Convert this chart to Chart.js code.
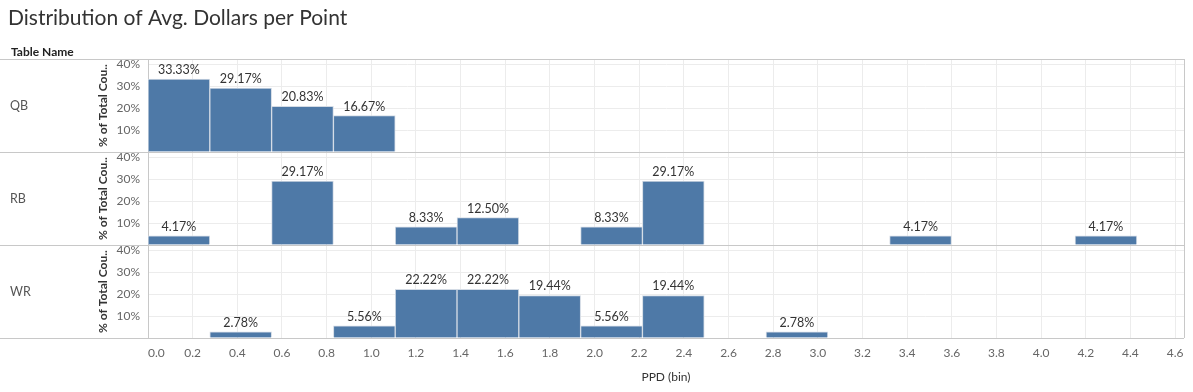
<!DOCTYPE html>
<html>
<head>
<meta charset="utf-8">
<title>Distribution of Avg. Dollars per Point</title>
<script src="https://cdn.jsdelivr.net/npm/chart.js@4.4.1/dist/chart.umd.min.js"></script>
<style>
  html, body { margin: 0; padding: 0; background: #fff; }
  #wrap { position: relative; width: 1193px; height: 392px; }
</style>
</head>
<body>
<div id="wrap"><canvas id="chart"></canvas></div>
<script>
// PPD bins (bin width)
const binSize = 0.2768;
const bins = [0, 1, 2, 3, 4, 5, 6, 7, 8, 9, 10, 11, 12, 13, 14, 15];

// % of total count per bin, one row per position
const rowNames = ["QB", "RB", "WR"];
const qbPct = [33.33, 29.17, 20.83, 16.67, null, null, null, null, null, null, null, null, null, null, null, null];
const rbPct = [4.17, null, 29.17, null, 8.33, 12.50, null, 8.33, 29.17, null, null, null, 4.17, null, null, 4.17];
const wrPct = [null, 2.78, null, 5.56, 22.22, 22.22, 19.44, 5.56, 19.44, null, 2.78, null, null, null, null, null];

// axes
const xTickLabels = ["0.0", "0.2", "0.4", "0.6", "0.8", "1.0", "1.2", "1.4", "1.6", "1.8", "2.0", "2.2",
                     "2.4", "2.6", "2.8", "3.0", "3.2", "3.4", "3.6", "3.8", "4.0", "4.2", "4.4", "4.6"];
const xMax = 4.64;
const yTicks = [0, 10, 20, 30, 40];
const yMax = 42.5;

const barColor = "#4e79a7";
const lineColor = "#c8c8c8";
const gridColor = "#ececec";

Chart.defaults.font.family = "Lato, 'Noto Sans', sans-serif";

function binPoints(values) {
    // bar centred in its bin
    return bins.map((b, i) => ({ x: (b + 0.5) * binSize, y: values[i] }));
}

function rowAxis() {
    return {
        type: "linear",
        position: "left",
        stack: "rows",
        stackWeight: 1,
        min: 0,
        max: yMax,
        offset: false,
        afterBuildTicks: (s) => { s.ticks = yTicks.map(v => ({ value: v })); },
        afterFit: (s) => { s.width = 60; },
        ticks: {
            autoSkip: false,
            padding: 8,
            color: "#666",
            font: { size: 12 },
            callback: (v) => v === 0 ? "" : v + "%",
        },
        grid: {
            drawTicks: false,
            color: (c) => (c.tick && c.tick.value === 0) ? "rgba(0,0,0,0)" : gridColor,
        },
        border: { display: true, color: lineColor },
        title: {
            display: true,
            text: "% of Total Cou..",
            color: "#333",
            font: { size: 12, weight: "bold" },
            padding: { top: 8, bottom: 0 },
        },
    };
}

// titles, row headers and pane separators (Tableau style)
const framePlugin = {
    id: "frame",
    afterDraw(chart) {
        const ctx = chart.ctx;
        const right = chart.chartArea.right;
        const axes = ["y_qb", "y_rb", "y_wr"].map(id => chart.scales[id]);
        ctx.save();

        ctx.fillStyle = "#333";
        ctx.font = "21px Lato";
        ctx.textAlign = "left";
        ctx.textBaseline = "alphabetic";
        ctx.fillText("Distribution of Avg. Dollars per Point", 8, 25);

        ctx.font = "bold 12px Lato";
        ctx.fillStyle = "#222";
        ctx.textBaseline = "middle";
        ctx.fillText("Table Name", 11, 52);

        ctx.strokeStyle = lineColor;
        ctx.lineWidth = 1;
        const ys = [Math.min(...axes.map(a => a.top))].concat(axes.map(a => a.bottom));
        ys.forEach(y => {
            const yy = Math.round(y) + 0.5;
            ctx.beginPath();
            ctx.moveTo(0, yy);
            ctx.lineTo(right, yy);
            ctx.stroke();
        });

        ctx.font = "12.5px Lato";
        ctx.fillStyle = "#555";
        axes.forEach((a, i) => {
            ctx.fillText(rowNames[i], 10, (a.top + a.bottom) / 2);
        });
        ctx.restore();
    },
};

// percent labels above the bars
const barLabelPlugin = {
    id: "barLabels",
    afterDatasetsDraw(chart) {
        const ctx = chart.ctx;
        ctx.save();
        ctx.font = "12.5px Lato";
        ctx.fillStyle = "#333";
        ctx.textAlign = "center";
        ctx.textBaseline = "alphabetic";
        chart.data.datasets.forEach((ds, di) => {
            const meta = chart.getDatasetMeta(di);
            meta.data.forEach((bar, i) => {
                const v = ds.data[i].y;
                if (v === null) return;
                ctx.fillText(v.toFixed(2) + "%", bar.x, bar.y - 5);
            });
        });
        ctx.restore();
    },
};

const datasets = [qbPct, rbPct, wrPct].map((vals, i) => ({
    label: rowNames[i],
    data: binPoints(vals),
    xAxisID: "xb",
    yAxisID: ["y_qb", "y_rb", "y_wr"][i],
    backgroundColor: barColor,
    borderColor: "#d3dbe5",
    borderWidth: 1,
    borderSkipped: "bottom",
    grouped: false,
    barPercentage: 1,
    categoryPercentage: 1,
}));

new Chart(document.getElementById("chart"), {
    type: "bar",
    data: { datasets: datasets },
    options: {
        responsive: true,
        maintainAspectRatio: false,
        animation: false,
        layout: { padding: { top: 59, left: 88, right: 9, bottom: 0 } },
        plugins: {
            legend: { display: false },
            tooltip: { enabled: false },
        },
        scales: {
            x: {
                type: "linear",
                position: "bottom",
                min: 0,
                max: xMax,
                offset: false,
                afterBuildTicks: (s) => {
                    s.ticks = xTickLabels.map(t => ({ value: parseFloat(t) })).concat([{ value: xMax }]);
                },
                afterFit: (s) => { s.height = 54; },
                ticks: {
                    autoSkip: false,
                    maxRotation: 0,
                    align: "inner",
                    padding: 8,
                    color: "#666",
                    font: { size: 12 },
                    callback: (v) => {
                        const t = xTickLabels.find(l => Math.abs(parseFloat(l) - v) < 1e-9);
                        return t === undefined ? "" : t;
                    },
                },
                grid: {
                    drawTicks: false,
                    offset: false,
                    color: (c) => (c.tick && (c.tick.value === 0 || c.tick.value === xMax)) ? lineColor : gridColor,
                },
                border: { display: false },
                title: {
                    display: true,
                    text: "PPD (bin)",
                    color: "#333",
                    font: { size: 12 },
                    padding: { top: 0, bottom: 8 },
                },
            },
            xb: {
                type: "linear",
                display: false,
                min: 0,
                max: xMax,
                offset: false,
                afterBuildTicks: (s) => { s.ticks = []; },
            },
            // stacked left axes are laid out last-defined on top
            y_wr: rowAxis(),
            y_rb: rowAxis(),
            y_qb: rowAxis(),
        },
    },
    plugins: [framePlugin, barLabelPlugin],
});
</script>
</body>
</html>
